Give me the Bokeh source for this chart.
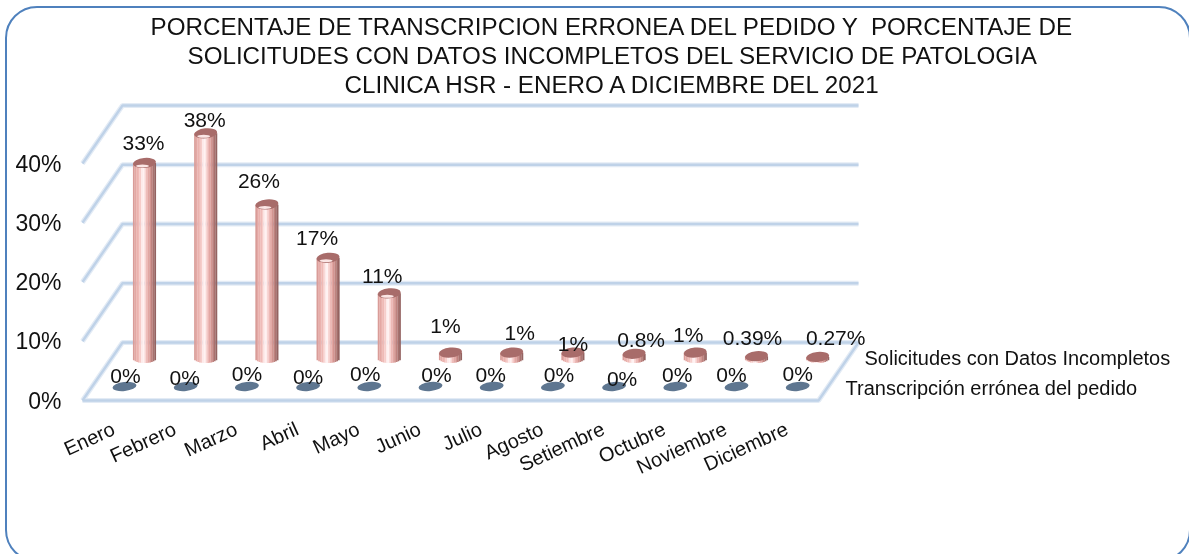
from bokeh.plotting import figure
from bokeh.embed import file_html
from bokeh.resources import INLINE
from bokeh.core.properties import value
from bokeh.models import Label, FixedTicker, Title, InlineStyleSheet
import math

months = ["Enero","Febrero","Marzo","Abril","Mayo","Junio","Julio","Agosto","Setiembre","Octubre","Noviembre","Diciembre"]
solicitudes = [33,38,26,17,11,1,1,1,0.8,1,0.39,0.27]
transcripcion = [0,0,0,0,0,0,0,0,0,0,0,0]
sol_labels = ["33%","38%","26%","17%","11%","1%","1%","1%","0.8%","1%","0.39%","0.27%"]
tra_labels = ["0%"]*12
y_ticks = [0,10,20,30,40]
title_lines = ["PORCENTAJE DE TRANSCRIPCION ERRONEA DEL PEDIDO Y \u00a0PORCENTAJE DE",
               "SOLICITUDES CON DATOS INCOMPLETOS DEL SERVICIO DE PATOLOGIA",
               "CLINICA HSR - ENERO A DICIEMBRE DEL 2021"]
title_left = [150, 187, 344]
legend_names = ["Solicitudes con Datos Incompletos", "Transcripción errónea del pedido"]

# layout of the pseudo-3D scene
PX_X, PX_Y = 61.2, 5.925      # px per category, px per percent
X0_PX, Y0_PX = 144.0, 400.0   # px of back series' first category, px of 0 %
L, R, T, B = 70, 1189, 97, 404
DX = 40/PX_X; DY = 58/PX_Y    # wall depth
BACK_B = 42/PX_Y; FRONT_B = 14/PX_Y; FRONT_DX = -20/PX_X
WALL_L = (82-X0_PX)/PX_X; WALL_R = (818-X0_PX)/PX_X

sol_dx = [-1,-1,-8,-11,-7,-5,8,0,7,-7,-4,18]
sol_dy = [-20,-14,-24,-20,-18,-27,-20,-9,-14,-18,-19,-19]
tra_dx = [1,-1,0,0,-4,6,-1,6,8,2,-5,0]
tra_dy = [-11,-9,-13,-10,-13,-12,-12,-12,-8,-12,-12,-13]
TICK_DX = -31

frame_css = InlineStyleSheet(css=""":host::after{content:"";position:absolute;left:5px;top:6px;width:1182px;height:552px;
border:2px solid #4f81bd;border-radius:32px;pointer-events:none;box-sizing:content-box;}""")

p = figure(width=1189, height=554, output_backend="svg", toolbar_location=None,
           x_range=((L-X0_PX)/PX_X, (R-X0_PX)/PX_X),
           y_range=((Y0_PX-B)/PX_Y, (Y0_PX-T)/PX_Y),
           min_border_left=L, min_border_right=1189-R, min_border_top=T, min_border_bottom=554-B,
           outline_line_color=None, background_fill_color=None, border_fill_color="white",
           styles={"position":"fixed","left":"0px","top":"0px"}, stylesheets=[frame_css])
p.grid.visible = False

for line, left in reversed(list(zip(title_lines, title_left))):
    p.add_layout(Title(text=line, align="left", offset=left-L, text_font="Liberation Sans", text_font_size="24.2px",
                       text_font_style="normal", text_color="#111111", standoff=0), "above")

p.yaxis.ticker = FixedTicker(ticks=y_ticks)
p.yaxis.major_label_overrides = {v: f"{v}%" for v in y_ticks}
p.yaxis.axis_line_color = None
p.yaxis.major_tick_line_color = None
p.yaxis.minor_tick_line_color = None
p.yaxis.major_label_standoff = 3
p.yaxis.major_label_text_font = "Liberation Sans"
p.yaxis.major_label_text_font_size = "23px"
p.yaxis.major_label_text_color = "#111111"

ticks_x = [i + TICK_DX/PX_X for i in range(len(months))]
p.xaxis.ticker = FixedTicker(ticks=ticks_x)
p.xaxis.major_label_overrides = dict(zip(ticks_x, months))
p.xaxis.axis_line_color = None
p.xaxis.major_tick_line_color = None
p.xaxis.minor_tick_line_color = None
p.xaxis.major_label_orientation = 0.43
p.xaxis.major_label_standoff = 17
p.xaxis.major_label_text_font = "Liberation Sans"
p.xaxis.major_label_text_font_size = "20px"
p.xaxis.major_label_text_color = "#111111"

# walls and floor
xs, ys = [], []
for v in y_ticks:
    xs.append([WALL_L, WALL_L+DX, WALL_R+DX]); ys.append([v, v+DY, v+DY])
xs.append([WALL_L, WALL_R, WALL_R+DX]); ys.append([0, 0, DY])
p.multi_line(xs, ys, line_color="#e3ebf5", line_width=5)
p.multi_line(xs, ys, line_color="#bfd2e8", line_width=2.4)

# cylinders: vertical strips of shading
shades = ["#d99c98","#e4a8a4","#eab2ae","#efbab6","#f6cdca","#fdeaea","#fff2f2","#f8d6d4","#edb9b6",
          "#e2a7a3","#d39591","#bf837f","#a8716e","#946361"]
W, RY = 23.0, 4.5
n = len(shades)
xc = [i for i, v in enumerate(solicitudes)]
for k, c in enumerate(shades):
    u = (k+0.5)/n*2-1
    off = u*W/2/PX_X
    e = math.sqrt(1-u*u)*RY/PX_Y
    sx = [x+off for x in xc]
    tops = [BACK_B+v for v in solicitudes]
    bots = [BACK_B-e]*12
    p.vbar(x=sx, top=tops, bottom=bots, width=W/n/PX_X*1.08, fill_color=c, line_color=None)

p.ellipse(x=xc, y=[BACK_B+v for v in solicitudes], width=W, height=10, width_units="screen", height_units="screen",
          angle=0.1, fill_color="#a86c6a", line_color=None)
hi_x = [x-2/PX_X for x, v in zip(xc, solicitudes) if v >= 5]
hi_y = [BACK_B+v-3/PX_Y for v in solicitudes if v >= 5]
p.ellipse(x=hi_x, y=hi_y, width=13, height=3, width_units="screen", height_units="screen",
          fill_color="#fbe6e5", line_color=None)

# zero-height front series
fx = [i+FRONT_DX for i in range(12)]
p.ellipse(x=fx, y=[FRONT_B+v for v in transcripcion], width=24, height=9, width_units="screen", height_units="screen",
          angle=0.1, fill_color="#5e7690", line_color=None)

text_kw = dict(text_font=value("Liberation Sans"), text_font_size="21px", text_align="center",
               text_baseline="middle", text_color="#111111")
p.text(x=xc, y=[BACK_B+v for v in solicitudes], text=sol_labels, x_offset=sol_dx, y_offset=sol_dy, **text_kw)
p.text(x=fx, y=[FRONT_B+v for v in transcripcion], text=tra_labels, x_offset=tra_dx, y_offset=tra_dy, **text_kw)

for name, lx, ly in [(legend_names[0], 864, 357), (legend_names[1], 845, 387)]:
    p.add_layout(Label(x=lx, y=ly, x_units="canvas", y_units="canvas", text=name, text_font="Liberation Sans",
                       text_font_size="20px", text_color="#111111", text_baseline="middle"))

open("out.html", "w").write(file_html(p, INLINE))
